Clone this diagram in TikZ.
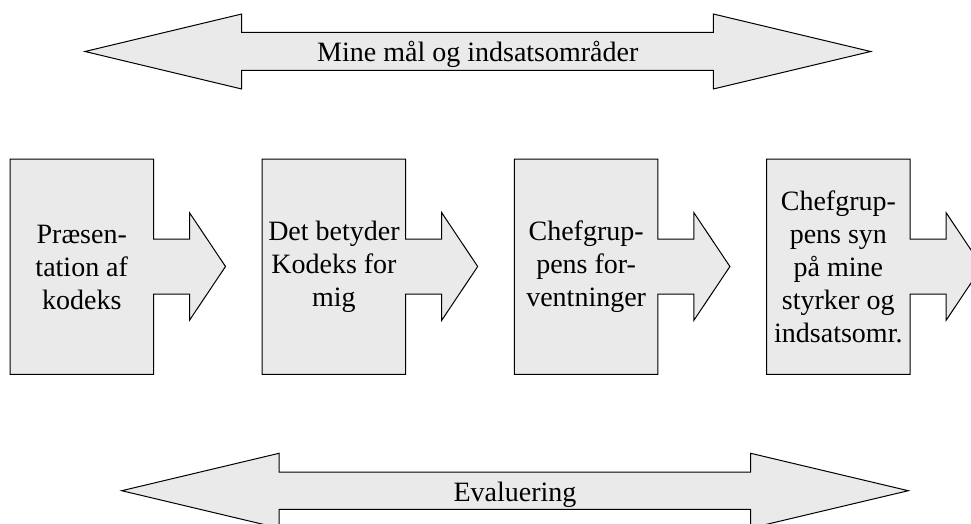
\documentclass[tikz,border=0pt]{standalone}
\usepackage{fontspec}
\setmainfont{Liberation Serif}
\definecolor{boxfill}{RGB}{234,234,234}
\begin{document}
\begin{tikzpicture}[x=1pt,y=-1pt,
  blk/.style={draw=black, fill=boxfill, line width=1pt, line join=miter},
  lbl/.style={font=\fontsize{28}{33}\selectfont, align=center, inner sep=0pt}]
\useasboundingbox (0,0) rectangle (971,524);
\clip (0,0) rectangle (971,524);
% top double arrow
\draw[blk] (85,51.5) -- (241.7,14) -- (241.7,32.3) -- (713.3,32.3) -- (713.3,14) -- (870.7,51.5)
  -- (713.3,89) -- (713.3,70.3) -- (241.7,70.3) -- (241.7,89) -- cycle;
\node[lbl, anchor=base] (goal) at (477.8,61.5) {Mine mål og indsatsområder};
% process boxes with arrows
\foreach \x in {10,262.2,514.4,766.6}{
  \draw[blk] (\x,159) -- ({\x+143.5},159) -- ({\x+143.5},239) -- ({\x+179.5},239) -- ({\x+179.5},212.7)
    -- ({\x+215.5},266.5) -- ({\x+179.5},320.3) -- ({\x+179.5},294) -- ({\x+143.5},294)
    -- ({\x+143.5},374.3) -- (\x,374.3) -- cycle;
}
\node[lbl] (b1) at (81.75,267) {Præsen-\\tation af\\kodeks};
\node[lbl] (b2) at (333.95,267) {Det betyder\\Kodeks for\\mig};
\node[lbl] (b3) at (586.15,267) {Chefgrup-\\pens for-\\ventninger};
\node[lbl] (b4) at (838.35,267) {Chefgrup-\\pens syn\\på mine\\styrker og\\indsatsomr.};
% bottom double arrow
\draw[blk] (121.7,490.7) -- (279,453.3) -- (279,472) -- (750.7,472) -- (750.7,453.3) -- (908.3,490.7)
  -- (750.7,528.1) -- (750.7,509.3) -- (279,509.3) -- (279,528.1) -- cycle;
\node[lbl, anchor=base] (eval) at (515,501) {Evaluering};
\end{tikzpicture}
\end{document}
